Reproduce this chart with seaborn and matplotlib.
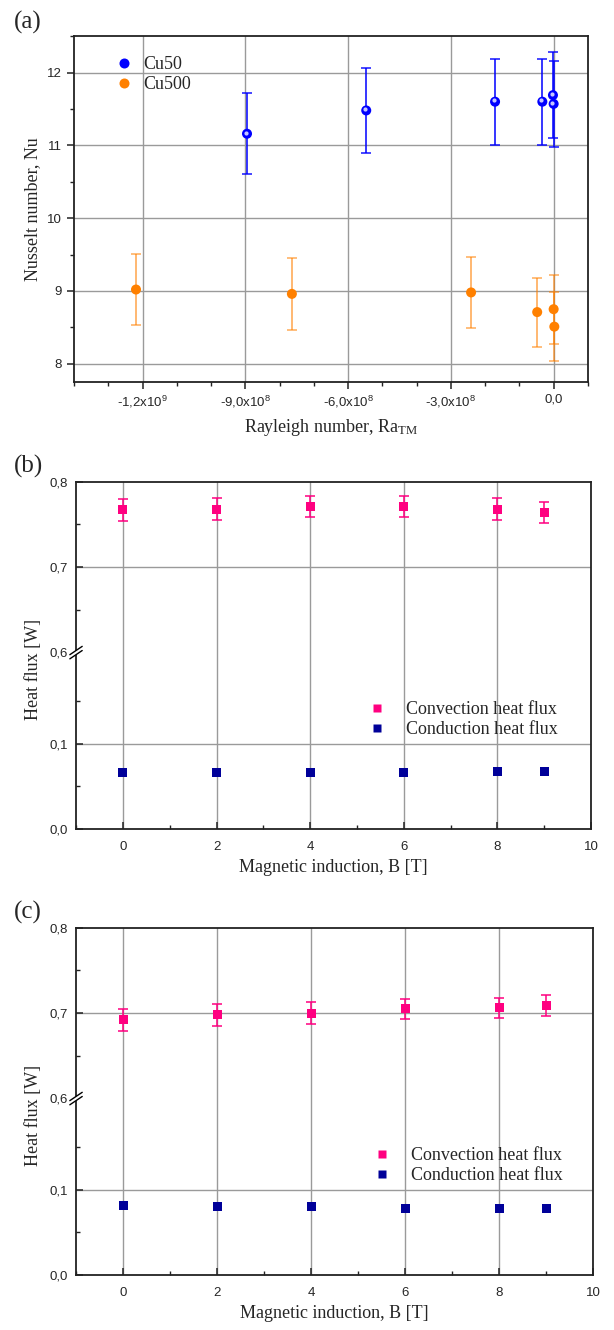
import numpy as np
import pandas as pd
import seaborn as sns
import matplotlib.pyplot as plt
import matplotlib.transforms as mtransforms
from matplotlib.ticker import FixedLocator, MultipleLocator

# ---- (a) Nusselt number vs Rayleigh number ----
ra_cu50 = [-8.95e8, -5.47e8, -1.71e8, -0.33e8, -0.02e8, 0.0]
nu_cu50 = [11.16, 11.48, 11.60, 11.60, 11.69, 11.57]
err_cu50 = [0.56, 0.58, 0.59, 0.59, 0.59, 0.59]

ra_cu500 = [-1.219e9, -7.64e8, -2.41e8, -0.48e8, 0.0, 0.02e8]
nu_cu500 = [9.02, 8.96, 8.98, 8.71, 8.75, 8.51]
err_cu500 = [0.49, 0.49, 0.49, 0.475, 0.475, 0.47]

ra_ticks = [-1.2e9, -9e8, -6e8, -3e8, 0.0]
ra_labels = ["-1,2x10$^{9}$", "-9,0x10$^{8}$", "-6,0x10$^{8}$", "-3,0x10$^{8}$", "0,0"]
nu_ticks = [8, 9, 10, 11, 12]

# ---- (b) and (c) heat flux vs magnetic induction ----
b_field = [0, 2, 4, 6, 8, 9]

conv_b = [0.767, 0.768, 0.771, 0.771, 0.768, 0.764]
conv_b_err = [0.0125, 0.0125, 0.0125, 0.0125, 0.0125, 0.0125]
cond_b = [0.066, 0.066, 0.066, 0.066, 0.067, 0.068]

conv_c = [0.692, 0.698, 0.700, 0.705, 0.706, 0.709]
conv_c_err = [0.013, 0.013, 0.013, 0.012, 0.012, 0.012]
cond_c = [0.081, 0.080, 0.080, 0.0785, 0.0785, 0.0785]

flux_ticks = [0.0, 0.1, 0.6, 0.7, 0.8]
flux_labels = ["0,0", "0,1", "0,6", "0,7", "0,8"]
b_ticks = [0, 2, 4, 6, 8, 10]

sns.set_style("white")
plt.rcParams["font.family"] = ["Liberation Sans", "DejaVu Sans"]
plt.rcParams["mathtext.default"] = "regular"
SERIF = "Liberation Serif"

# broken y axis: 0 - 0.207 and 0.6 - 0.8
LOW_TOP, HIGH_BOT, EPS = 0.207, 0.6, 1e-3
GAP = (HIGH_BOT - LOW_TOP) * EPS


def fwd(y):
    y = np.asarray(y, dtype=float)
    return np.where(y <= LOW_TOP, y,
                    np.where(y >= HIGH_BOT, y - HIGH_BOT + LOW_TOP + GAP,
                             LOW_TOP + (y - LOW_TOP) * EPS))


def inv(t):
    t = np.asarray(t, dtype=float)
    return np.where(t <= LOW_TOP, t,
                    np.where(t >= LOW_TOP + GAP, t - LOW_TOP - GAP + HIGH_BOT,
                             LOW_TOP + (t - LOW_TOP) / EPS))


fig = plt.figure(figsize=(6.14, 13.3), dpi=100)
ax_a = fig.add_axes([0.1205, 0.7128, 0.837, 0.260])
ax_b = fig.add_axes([0.1238, 0.3767, 0.839, 0.261])
ax_c = fig.add_axes([0.1238, 0.0414, 0.842, 0.261])

grid_kw = dict(color="#9a9a9a", lw=1.0)

# ---------------- panel (a) ----------------
df_a = pd.DataFrame({
    "Ra": ra_cu50 + ra_cu500,
    "Nu": nu_cu50 + nu_cu500,
    "err": err_cu50 + err_cu500,
    "sample": ["Cu50"] * len(ra_cu50) + ["Cu500"] * len(ra_cu500),
})
pal_a = {"Cu50": "#0000FF", "Cu500": "#FF8000"}

ax_a.grid(True, **grid_kw)
ax_a.set_axisbelow(True)
for name, col, a in [("Cu50", "#0000FF", 0.85), ("Cu500", "#FF8000", 0.6)]:
    d = df_a[df_a["sample"] == name]
    ax_a.errorbar(d["Ra"], d["Nu"], yerr=d["err"], fmt="none", ecolor=col,
                  alpha=a, elinewidth=1.3, capsize=3.5, capthick=1.2, zorder=3)
sns.scatterplot(data=df_a, x="Ra", y="Nu", hue="sample", palette=pal_a,
                s=52, edgecolor="none", zorder=4, ax=ax_a)
# little highlight on the blue spheres
shift = mtransforms.ScaledTranslation(-1.2 / 100, 1.2 / 100, fig.dpi_scale_trans)
d50 = df_a[df_a["sample"] == "Cu50"]
ax_a.scatter(d50["Ra"], d50["Nu"], s=4, color="#c8c8ff", zorder=5,
             transform=ax_a.transData + shift)

ax_a.set_xlim(-1.4e9, 1e8)
ax_a.set_ylim(7.75, 12.5)
ax_a.xaxis.set_major_locator(FixedLocator(ra_ticks))
ax_a.set_xticklabels(ra_labels)
ax_a.xaxis.set_minor_locator(MultipleLocator(1e8))
ax_a.yaxis.set_major_locator(FixedLocator(nu_ticks))
ax_a.yaxis.set_minor_locator(MultipleLocator(0.5))
ax_a.tick_params(which="both", direction="out", bottom=True, left=True,
                 labelsize=9.5, color="#222222")
ax_a.tick_params(which="major", length=5, width=1.1)
ax_a.tick_params(which="minor", length=3, width=1.0)
ax_a.set_xlabel("Rayleigh number, Ra$_{TM}$", fontsize=13, family=SERIF, labelpad=5)
ax_a.set_ylabel("Nusselt number, Nu", fontsize=13, family=SERIF)
ax_a.yaxis.set_label_coords(-0.064, 0.5)
leg = ax_a.legend(title=None, frameon=False, loc="upper left",
                  bbox_to_anchor=(0.03, 0.99), prop={"family": SERIF, "size": 13},
                  handletextpad=0.1, labelspacing=0.2, markerscale=1.0)

# ---------------- panels (b) and (c) ----------------
def flux_panel(ax, conv, conv_err, cond, leg_anchor):
    df = pd.DataFrame({
        "B": b_field + b_field,
        "flux": conv + cond,
        "kind": ["Convection heat flux"] * len(conv) + ["Conduction heat flux"] * len(cond),
    })
    pal = {"Convection heat flux": "#FF0080", "Conduction heat flux": "#000099"}
    ax.set_yscale("function", functions=(fwd, inv))
    ax.grid(True, axis="x", **grid_kw)
    for yv in [0.1, 0.7]:
        ax.axhline(yv, zorder=0.5, **grid_kw)
    ax.set_axisbelow(True)
    ax.errorbar(b_field, conv, yerr=conv_err, fmt="none", ecolor="#FF0080",
                elinewidth=1.1, capsize=3.5, capthick=1.1, zorder=3)
    sns.scatterplot(data=df, x="B", y="flux", hue="kind", palette=pal, marker="s",
                    s=42, edgecolor="none", zorder=4, ax=ax)
    ax.set_xlim(-1, 10)
    ax.set_ylim(0.0, 0.8)
    ax.xaxis.set_major_locator(FixedLocator(b_ticks))
    ax.xaxis.set_minor_locator(MultipleLocator(1))
    ax.yaxis.set_major_locator(FixedLocator(flux_ticks))
    ax.set_yticklabels(flux_labels)
    ax.yaxis.set_minor_locator(FixedLocator([0.05, 0.15, 0.65, 0.75]))
    ax.tick_params(which="both", direction="in", bottom=True, left=True,
                   labelsize=9.5, color="#222222")
    ax.tick_params(which="major", length=5, width=1.1)
    ax.tick_params(which="minor", length=3, width=1.0)
    ax.tick_params(axis="x", pad=9)
    ax.tick_params(axis="y", pad=6)
    ax.yaxis.get_major_ticks()[2].tick1line.set_visible(False)
    ax.set_xlabel("Magnetic induction, B [T]", fontsize=13, family=SERIF, labelpad=4)
    ax.set_ylabel("Heat flux [W]", fontsize=13, family=SERIF)
    ax.yaxis.set_label_coords(-0.066, 0.46)
    ax.legend(title=None, frameon=False, loc="upper left", bbox_to_anchor=leg_anchor,
              prop={"family": SERIF, "size": 13}, handletextpad=0.6,
              labelspacing=0.15, markerscale=0.8)
    # break marks on the left spine
    yb = float(fwd(LOW_TOP + 1e-9) / fwd(0.8))
    dx, dy, off = 0.012, 0.012, 0.006
    ax.fill([-dx, dx, dx, -dx], [yb - dy - off, yb + dy - off, yb + dy + off, yb - dy + off],
            color="white", transform=ax.transAxes, clip_on=False, zorder=10, lw=0)
    for o in (-off, off):
        ax.plot([-dx, dx], [yb - dy + o, yb + dy + o], color="black", lw=1.0,
                transform=ax.transAxes, clip_on=False, zorder=11)


flux_panel(ax_b, conv_b, conv_b_err, cond_b, (0.517, 0.415))
flux_panel(ax_c, conv_c, conv_c_err, cond_c, (0.525, 0.414))

for ax in (ax_a, ax_b, ax_c):
    for sp in ax.spines.values():
        sp.set_visible(True)
        sp.set_color("#222222")
        sp.set_linewidth(1.3)

fig.text(0.022, 0.992, "(a)", fontsize=18, family=SERIF, va="top")
fig.text(0.022, 0.658, "(b)", fontsize=18, family=SERIF, va="top")
fig.text(0.022, 0.323, "(c)", fontsize=18, family=SERIF, va="top")

fig.savefig("out.png", dpi=100)
